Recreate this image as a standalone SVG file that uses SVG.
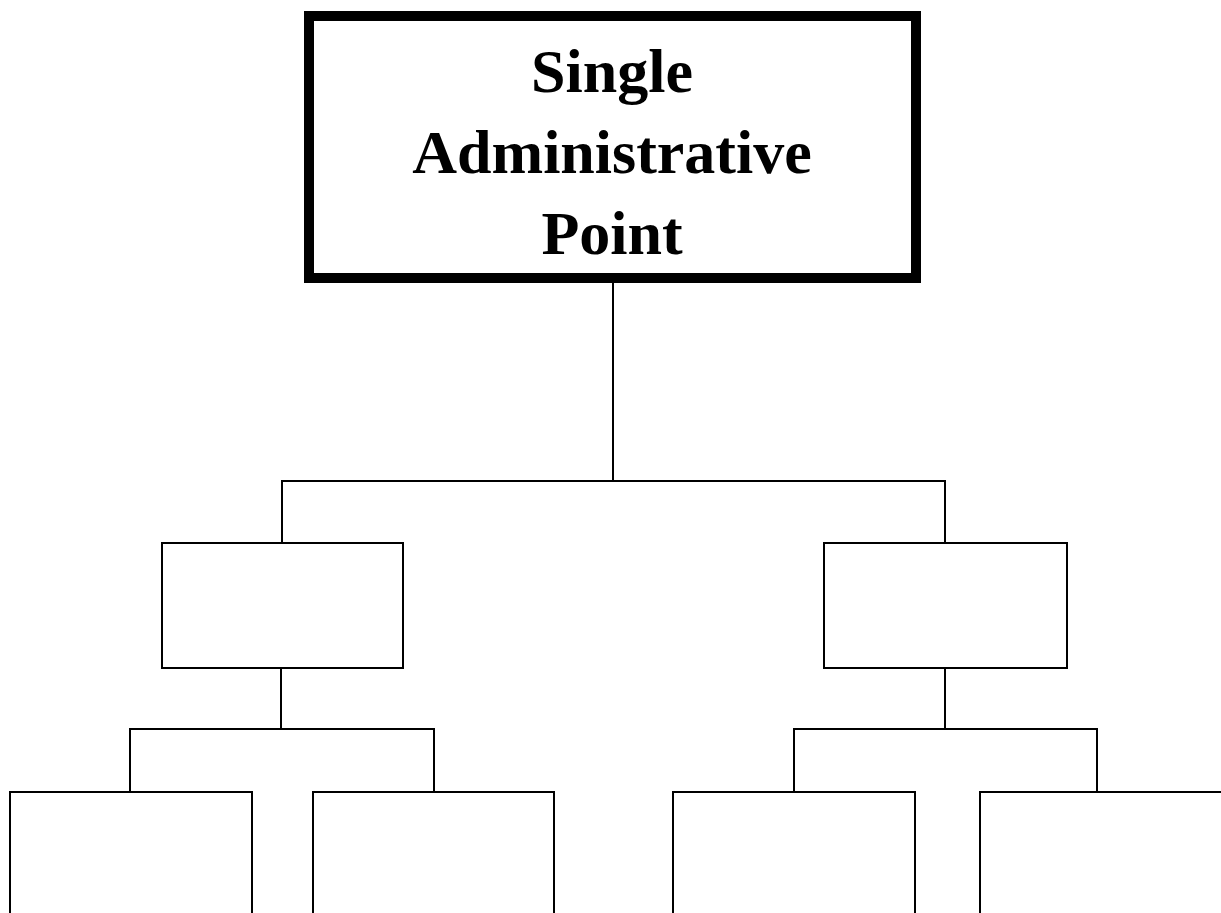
<svg xmlns="http://www.w3.org/2000/svg" width="1221" height="913" viewBox="0 0 1221 913">
<style>
.bg{fill:#ffffff}
.box{fill:#ffffff;stroke:#000000;stroke-width:2}
.open{fill:none;stroke:#000000;stroke-width:2}
.top{fill:#ffffff;stroke:#000000;stroke-width:10}
.conn{fill:none;stroke:#000000;stroke-width:2}
.t{font-family:"Liberation Serif","Times New Roman",serif;font-weight:bold;font-size:62px;fill:#000000;text-anchor:middle}
</style>
<rect class="bg" x="0" y="0" width="1221" height="913"/>
<g id="connectors">
<path class="conn" d="M613,283 V481"/>
<path class="conn" d="M282,543 V481 H945 V543"/>
<path class="conn" d="M281,668 V729"/>
<path class="conn" d="M130,792 V729 H434 V792"/>
<path class="conn" d="M945,668 V729"/>
<path class="conn" d="M794,792 V729 H1097 V792"/>
</g>
<g id="node-root">
<rect class="top" x="309" y="16" width="607" height="262"/>
<text class="t" x="612" y="92">Single</text>
<text class="t" x="612" y="173">Administrative</text>
<text class="t" x="612" y="254">Point</text>
</g>
<g id="node-mid-left">
<rect class="box" x="162" y="543" width="241" height="125"/>
</g>
<g id="node-mid-right">
<rect class="box" x="824" y="543" width="243" height="125"/>
</g>
<g id="node-bottom-1">
<path class="open" d="M10,913 V792 H252 V913"/>
</g>
<g id="node-bottom-2">
<path class="open" d="M313,913 V792 H554 V913"/>
</g>
<g id="node-bottom-3">
<path class="open" d="M673,913 V792 H915 V913"/>
</g>
<g id="node-bottom-4">
<path class="open" d="M980,913 V792 H1221"/>
</g>
</svg>
